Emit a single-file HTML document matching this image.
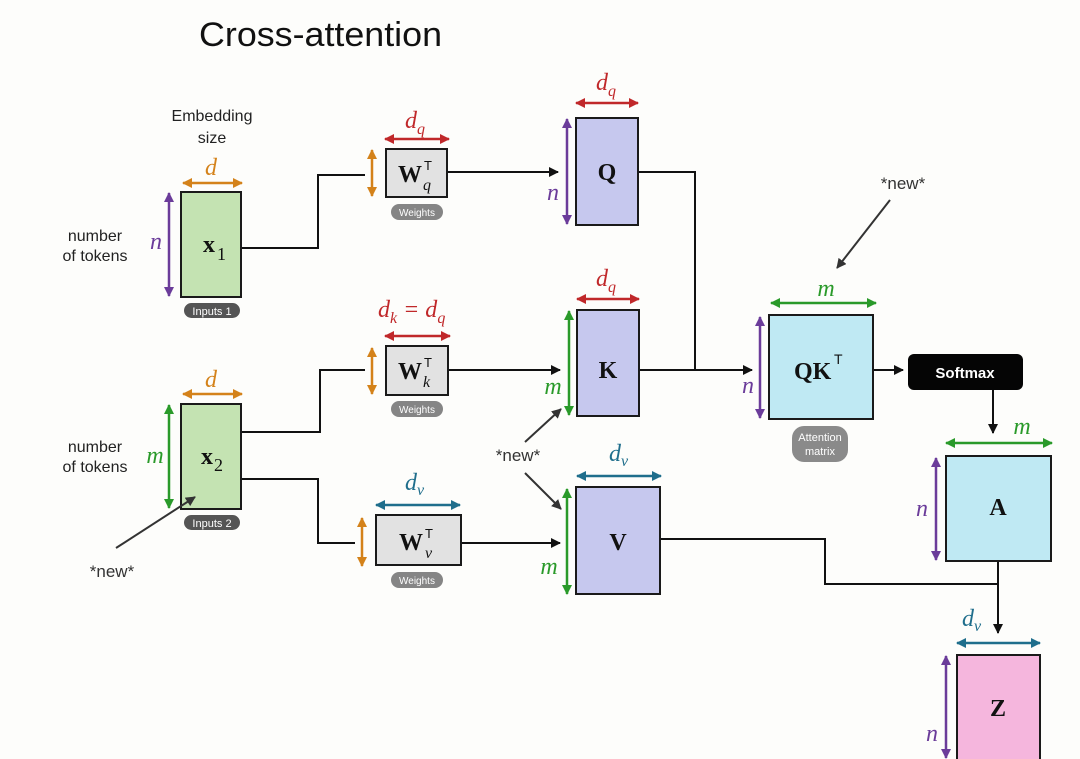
<!DOCTYPE html>
<html><head><meta charset="utf-8"><style>
html,body{margin:0;padding:0;background:#fdfdfb;}
svg{display:block;}
.s{font-family:"Liberation Sans",sans-serif;}
.m{font-family:"Liberation Serif",serif;font-style:italic;}
.b{font-family:"Liberation Serif",serif;font-weight:bold;}
</style></head><body>
<svg width="1080" height="759" viewBox="0 0 1080 759" xmlns="http://www.w3.org/2000/svg">
<defs>
<marker id="ak" markerWidth="10" markerHeight="10" refX="9" refY="5" orient="auto-start-reverse" markerUnits="userSpaceOnUse"><path d="M0,0 L10,5 L0,10 Z" fill="#111"/></marker>
<marker id="ag" markerWidth="10" markerHeight="10" refX="9" refY="5" orient="auto-start-reverse" markerUnits="userSpaceOnUse"><path d="M0,0 L10,5 L0,10 Z" fill="#333"/></marker>
<marker id="ao" markerWidth="10" markerHeight="10" refX="9" refY="5" orient="auto-start-reverse" markerUnits="userSpaceOnUse"><path d="M0,0 L10,5 L0,10 Z" fill="#d4821a"/></marker>
<marker id="ap" markerWidth="10" markerHeight="10" refX="9" refY="5" orient="auto-start-reverse" markerUnits="userSpaceOnUse"><path d="M0,0 L10,5 L0,10 Z" fill="#6b3c9a"/></marker>
<marker id="agr" markerWidth="10" markerHeight="10" refX="9" refY="5" orient="auto-start-reverse" markerUnits="userSpaceOnUse"><path d="M0,0 L10,5 L0,10 Z" fill="#2a9a2a"/></marker>
<marker id="ar" markerWidth="10" markerHeight="10" refX="9" refY="5" orient="auto-start-reverse" markerUnits="userSpaceOnUse"><path d="M0,0 L10,5 L0,10 Z" fill="#c0282a"/></marker>
<marker id="at" markerWidth="10" markerHeight="10" refX="9" refY="5" orient="auto-start-reverse" markerUnits="userSpaceOnUse"><path d="M0,0 L10,5 L0,10 Z" fill="#1f6e8c"/></marker>
</defs>

<text x="199" y="46" class="s" font-size="34" fill="#111" textLength="243" lengthAdjust="spacingAndGlyphs">Cross-attention</text>
<text x="212" y="121" class="s" font-size="16" fill="#222" text-anchor="middle">Embedding</text>
<text x="212" y="143" class="s" font-size="16" fill="#222" text-anchor="middle">size</text>

<!-- connectors -->
<g stroke="#111" stroke-width="2" fill="none">
<polyline points="241,248 318,248 318,175 365,175"/>
<line x1="447" y1="172" x2="558" y2="172" marker-end="url(#ak)"/>
<polyline points="638,172 695,172 695,370"/>
<line x1="639" y1="370" x2="752" y2="370" marker-end="url(#ak)"/>
<polyline points="241,432 320,432 320,370 365,370"/>
<line x1="448" y1="370" x2="560" y2="370" marker-end="url(#ak)"/>
<polyline points="241,479 318,479 318,543 355,543"/>
<line x1="461" y1="543" x2="560" y2="543" marker-end="url(#ak)"/>
<line x1="873" y1="370" x2="903" y2="370" marker-end="url(#ak)"/>
<line x1="993" y1="390" x2="993" y2="433" marker-end="url(#ak)"/>
<polyline points="660,539 825,539 825,584 998,584"/>
<line x1="998" y1="561" x2="998" y2="633" marker-end="url(#ak)"/>
</g>

<!-- boxes -->
<g stroke="#1a1a1a" stroke-width="2">
<rect x="181" y="192" width="60" height="105" fill="#c4e3b2"/>
<rect x="181" y="404" width="60" height="105" fill="#c4e3b2"/>
<rect x="386" y="149" width="61" height="48" fill="#e2e2e2"/>
<rect x="386" y="346" width="62" height="49" fill="#e2e2e2"/>
<rect x="376" y="515" width="85" height="50" fill="#e2e2e2"/>
<rect x="576" y="118" width="62" height="107" fill="#c6c8ee"/>
<rect x="577" y="310" width="62" height="106" fill="#c6c8ee"/>
<rect x="576" y="487" width="84" height="107" fill="#c6c8ee"/>
<rect x="769" y="315" width="104" height="104" fill="#bfe9f3"/>
<rect x="946" y="456" width="105" height="105" fill="#bfe9f3"/>
<rect x="957" y="655" width="83" height="110" fill="#f5b6dd"/>
</g>
<rect x="908" y="354" width="115" height="36" rx="6" fill="#050505"/>
<text x="965" y="378" class="s" font-size="15" font-weight="bold" fill="#fff" text-anchor="middle">Softmax</text>

<g stroke="#333" stroke-width="2" fill="none">
<line x1="890" y1="200" x2="837" y2="268" marker-end="url(#ag)"/>
<line x1="525" y1="442" x2="561" y2="409" marker-end="url(#ag)"/>
<line x1="525" y1="473" x2="561" y2="509" marker-end="url(#ag)"/>
<line x1="116" y1="548" x2="195" y2="497" marker-end="url(#ag)"/>
</g>

<!-- box labels -->
<text x="203" y="252" class="b" font-size="24" fill="#111">x</text><text x="217" y="260" font-family="Liberation Serif,serif" font-size="18" fill="#111">1</text>
<text x="201" y="464" class="b" font-size="24" fill="#111">x</text><text x="214" y="471" font-family="Liberation Serif,serif" font-size="18" fill="#111">2</text>
<text x="398" y="182" class="b" font-size="24" fill="#111">W</text><text x="424" y="170" class="s" font-size="13" fill="#111">T</text><text x="423" y="190" class="m" font-size="16" fill="#111">q</text>
<text x="398" y="379" class="b" font-size="24" fill="#111">W</text><text x="424" y="367" class="s" font-size="13" fill="#111">T</text><text x="423" y="387" class="m" font-size="16" fill="#111">k</text>
<text x="399" y="550" class="b" font-size="24" fill="#111">W</text><text x="425" y="538" class="s" font-size="13" fill="#111">T</text><text x="425" y="558" class="m" font-size="16" fill="#111">v</text>
<text x="607" y="180" class="b" font-size="24" fill="#111" text-anchor="middle">Q</text>
<text x="608" y="378" class="b" font-size="24" fill="#111" text-anchor="middle">K</text>
<text x="618" y="550" class="b" font-size="24" fill="#111" text-anchor="middle">V</text>
<text x="794" y="379" class="b" font-size="24" fill="#111">QK</text><text x="834" y="364" class="s" font-size="14" fill="#111">T</text>
<text x="998" y="515" class="b" font-size="24" fill="#111" text-anchor="middle">A</text>
<text x="998" y="716" class="b" font-size="24" fill="#111" text-anchor="middle">Z</text>

<!-- pills -->
<rect x="184" y="303" width="56" height="15" rx="7.5" fill="#555"/>
<text x="212" y="315" class="s" font-size="11" fill="#fff" text-anchor="middle">Inputs 1</text>
<rect x="184" y="515" width="56" height="15" rx="7.5" fill="#555"/>
<text x="212" y="527" class="s" font-size="11" fill="#fff" text-anchor="middle">Inputs 2</text>
<rect x="391" y="204" width="52" height="16" rx="8" fill="#858585"/>
<text x="417" y="216" class="s" font-size="10" fill="#fff" text-anchor="middle">Weights</text>
<rect x="391" y="401" width="52" height="16" rx="8" fill="#858585"/>
<text x="417" y="413" class="s" font-size="10" fill="#fff" text-anchor="middle">Weights</text>
<rect x="391" y="572" width="52" height="16" rx="8" fill="#858585"/>
<text x="417" y="584" class="s" font-size="10" fill="#fff" text-anchor="middle">Weights</text>
<rect x="792" y="426" width="56" height="36" rx="12" fill="#8a8a8a"/>
<text x="820" y="441" class="s" font-size="11" fill="#fff" text-anchor="middle">Attention</text>
<text x="820" y="455" class="s" font-size="11" fill="#fff" text-anchor="middle">matrix</text>

<!-- dimension arrows -->
<g stroke-width="2.5" fill="none">
<line x1="183" y1="183" x2="242" y2="183" stroke="#d4821a" marker-start="url(#ao)" marker-end="url(#ao)"/>
<line x1="183" y1="394" x2="242" y2="394" stroke="#d4821a" marker-start="url(#ao)" marker-end="url(#ao)"/>
<line x1="372" y1="150" x2="372" y2="196" stroke="#d4821a" marker-start="url(#ao)" marker-end="url(#ao)"/>
<line x1="372" y1="348" x2="372" y2="394" stroke="#d4821a" marker-start="url(#ao)" marker-end="url(#ao)"/>
<line x1="362" y1="518" x2="362" y2="566" stroke="#d4821a" marker-start="url(#ao)" marker-end="url(#ao)"/>
<line x1="169" y1="193" x2="169" y2="296" stroke="#6b3c9a" marker-start="url(#ap)" marker-end="url(#ap)"/>
<line x1="567" y1="119" x2="567" y2="224" stroke="#6b3c9a" marker-start="url(#ap)" marker-end="url(#ap)"/>
<line x1="760" y1="317" x2="760" y2="418" stroke="#6b3c9a" marker-start="url(#ap)" marker-end="url(#ap)"/>
<line x1="936" y1="458" x2="936" y2="560" stroke="#6b3c9a" marker-start="url(#ap)" marker-end="url(#ap)"/>
<line x1="946" y1="656" x2="946" y2="758" stroke="#6b3c9a" marker-start="url(#ap)" marker-end="url(#ap)"/>
<line x1="169" y1="405" x2="169" y2="508" stroke="#2a9a2a" marker-start="url(#agr)" marker-end="url(#agr)"/>
<line x1="569" y1="311" x2="569" y2="415" stroke="#2a9a2a" marker-start="url(#agr)" marker-end="url(#agr)"/>
<line x1="567" y1="489" x2="567" y2="594" stroke="#2a9a2a" marker-start="url(#agr)" marker-end="url(#agr)"/>
<line x1="771" y1="303" x2="876" y2="303" stroke="#2a9a2a" marker-start="url(#agr)" marker-end="url(#agr)"/>
<line x1="946" y1="443" x2="1052" y2="443" stroke="#2a9a2a" marker-start="url(#agr)" marker-end="url(#agr)"/>
<line x1="385" y1="139" x2="449" y2="139" stroke="#c0282a" marker-start="url(#ar)" marker-end="url(#ar)"/>
<line x1="576" y1="103" x2="638" y2="103" stroke="#c0282a" marker-start="url(#ar)" marker-end="url(#ar)"/>
<line x1="385" y1="336" x2="450" y2="336" stroke="#c0282a" marker-start="url(#ar)" marker-end="url(#ar)"/>
<line x1="577" y1="299" x2="639" y2="299" stroke="#c0282a" marker-start="url(#ar)" marker-end="url(#ar)"/>
<line x1="376" y1="505" x2="460" y2="505" stroke="#1f6e8c" marker-start="url(#at)" marker-end="url(#at)"/>
<line x1="577" y1="476" x2="661" y2="476" stroke="#1f6e8c" marker-start="url(#at)" marker-end="url(#at)"/>
<line x1="957" y1="643" x2="1040" y2="643" stroke="#1f6e8c" marker-start="url(#at)" marker-end="url(#at)"/>
</g>

<!-- dimension labels -->
<g class="m" font-size="24">
<text x="211" y="175" fill="#d4821a" text-anchor="middle">d</text>
<text x="211" y="387" fill="#d4821a" text-anchor="middle">d</text>
<text x="156" y="249" fill="#6b3c9a" text-anchor="middle">n</text>
<text x="553" y="200" fill="#6b3c9a" text-anchor="middle">n</text>
<text x="748" y="393" fill="#6b3c9a" text-anchor="middle">n</text>
<text x="922" y="516" fill="#6b3c9a" text-anchor="middle">n</text>
<text x="932" y="741" fill="#6b3c9a" text-anchor="middle">n</text>
<text x="155" y="463" fill="#2a9a2a" text-anchor="middle">m</text>
<text x="553" y="394" fill="#2a9a2a" text-anchor="middle">m</text>
<text x="549" y="574" fill="#2a9a2a" text-anchor="middle">m</text>
<text x="826" y="296" fill="#2a9a2a" text-anchor="middle">m</text>
<text x="1022" y="434" fill="#2a9a2a" text-anchor="middle">m</text>
<text x="405" y="128" fill="#c0282a">d<tspan font-size="16" dy="6">q</tspan></text>
<text x="596" y="90" fill="#c0282a">d<tspan font-size="16" dy="6">q</tspan></text>
<text x="596" y="286" fill="#c0282a">d<tspan font-size="16" dy="6">q</tspan></text>
<text x="378" y="317" fill="#c0282a">d<tspan font-size="16" dy="6">k</tspan><tspan dy="-6"> = d</tspan><tspan font-size="16" dy="6">q</tspan></text>
<text x="405" y="490" fill="#1f6e8c">d<tspan font-size="16" dy="5">v</tspan></text>
<text x="609" y="461" fill="#1f6e8c">d<tspan font-size="16" dy="5">v</tspan></text>
<text x="962" y="626" fill="#1f6e8c">d<tspan font-size="16" dy="5">v</tspan></text>
</g>

<g class="s" font-size="16" fill="#222" text-anchor="middle">
<text x="95" y="241">number</text><text x="95" y="261">of tokens</text>
<text x="95" y="452">number</text><text x="95" y="472">of tokens</text>
</g>
<g class="s" font-size="17" fill="#333" text-anchor="middle">
<text x="903" y="189">*new*</text>
<text x="518" y="461">*new*</text>
<text x="112" y="577">*new*</text>
</g>
</svg>
</body></html>
